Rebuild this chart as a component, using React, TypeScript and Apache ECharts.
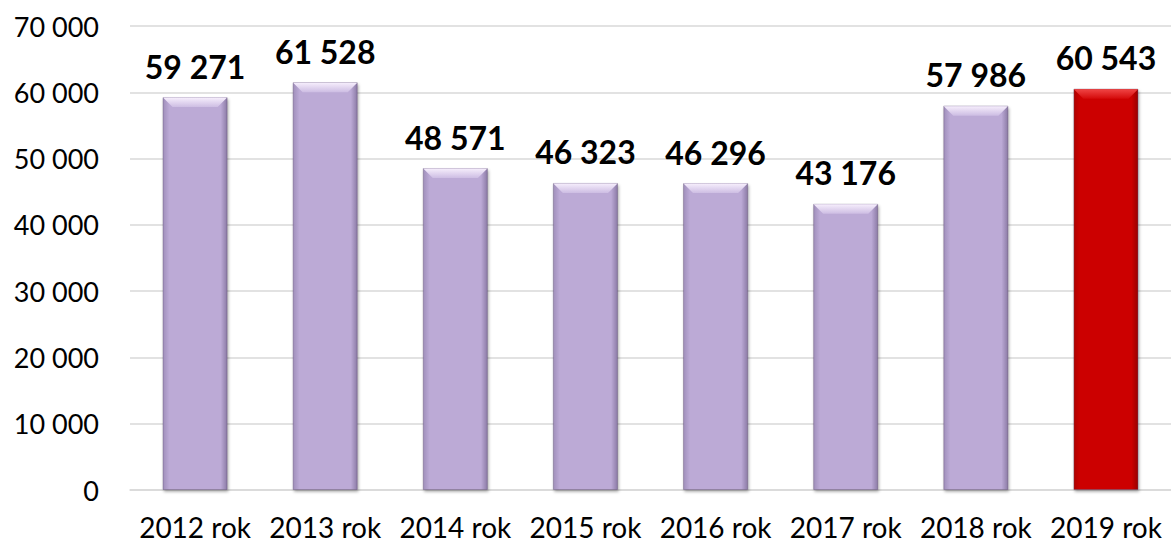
import React, { useEffect, useRef } from "react";
import * as echarts from "echarts";

const categories = ["2012 rok", "2013 rok", "2014 rok", "2015 rok", "2016 rok", "2017 rok", "2018 rok", "2019 rok"];
const values = [59271, 61528, 48571, 46323, 46296, 43176, 57986, 60543];
const highlightIndex = 7;
const yMin = 0;
const yMax = 70000;
const yInterval = 10000;

const fmt = (v: number) => String(v).replace(/\B(?=(\d{3})+(?!\d))/g, " ");

const lavender = new echarts.graphic.LinearGradient(0, 0, 1, 0, [
  { offset: 0, color: "#a08fbb" },
  { offset: 0.1, color: "#bcaad6" },
  { offset: 0.9, color: "#bcaad6" },
  { offset: 1, color: "#8c7ba6" },
]);
const red = new echarts.graphic.LinearGradient(0, 0, 1, 0, [
  { offset: 0, color: "#b00000" },
  { offset: 0.1, color: "#cc0000" },
  { offset: 0.9, color: "#cc0000" },
  { offset: 1, color: "#980000" },
]);

export default function App() {
  const ref = useRef<HTMLDivElement>(null);
  useEffect(() => {
    if (!ref.current) return;
    const chart = echarts.init(ref.current, undefined, { renderer: "svg" });
    chart.setOption({
      animation: false,
      backgroundColor: "#ffffff",
      grid: { left: 130, top: 26, bottom: 53, width: 1052 },
      xAxis: {
        type: "category",
        data: categories,
        axisLine: { show: true, lineStyle: { color: "#d9d9d9", width: 1.5 } },
        axisTick: { show: false },
        axisLabel: { fontFamily: "Lato", fontSize: 28, lineHeight: 28, color: "#000", margin: 23, interval: 0 },
      },
      yAxis: {
        type: "value",
        min: yMin,
        max: yMax,
        interval: yInterval,
        axisLine: { show: false },
        axisTick: { show: false },
        splitLine: { lineStyle: { color: "#d9d9d9", width: 1.5 } },
        axisLabel: { fontFamily: "Lato", fontSize: 27, color: "#000", margin: 31, formatter: (v: number) => fmt(v) },
      },
      series: [
        {
          type: "bar",
          barWidth: "50%",
          data: values.map((v, i) => ({
            value: v,
            itemStyle: { color: i === highlightIndex ? red : lavender },
          })),
          itemStyle: {
            borderColor: "rgba(80,60,100,0.35)",
            borderWidth: 1,
            shadowColor: "rgba(0,0,0,0.35)",
            shadowBlur: 3,
            shadowOffsetX: 1,
            shadowOffsetY: 2,
          },
          label: {
            show: true,
            position: "top",
            distance: 15,
            fontFamily: "Lato",
            fontWeight: "bold",
            fontSize: 32,
            color: "#000",
            formatter: (p: any) => fmt(p.value),
          },
        },
        {
          type: "custom",
          z: 5,
          silent: true,
          data: values.map((v, i) => [i, v]),
          renderItem: (params: any, api: any) => {
            const idx = api.value(0);
            const top = api.coord([idx, api.value(1)]);
            const band = api.size([1, 0])[0];
            const w = band * 0.5;
            const b = 10;
            const x0 = top[0] - w / 2;
            const x1 = top[0] + w / 2;
            const y0 = top[1];
            const isRed = idx === highlightIndex;
            return {
              type: "polygon",
              shape: {
                points: [
                  [x0 + 0.5, y0 + 0.5],
                  [x1 - 0.5, y0 + 0.5],
                  [x1 - b, y0 + b],
                  [x0 + b, y0 + b],
                ],
              },
              style: {
                fill: new echarts.graphic.LinearGradient(0, 0, 0, 1, [
                  { offset: 0, color: isRed ? "#f04545" : "#f6eefc" },
                  { offset: 1, color: isRed ? "#d40a0a" : "#cdbde3" },
                ]),
              },
            };
          },
        },
      ],
    });
    return () => chart.dispose();
  }, []);
  return <div ref={ref} style={{ position: "absolute", left: 0, top: 0, width: 1171, height: 543 }} />;
}
